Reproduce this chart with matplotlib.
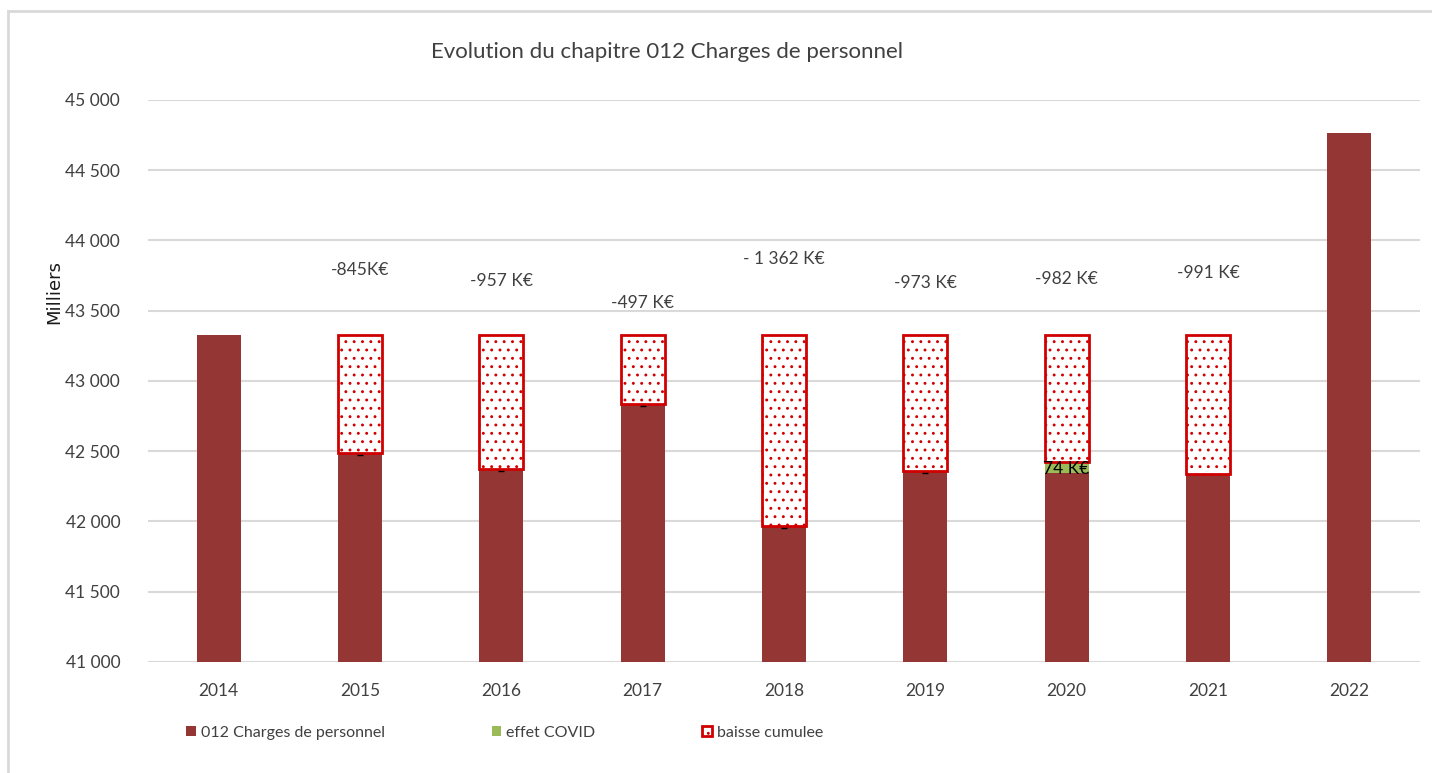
import matplotlib
matplotlib.use("Agg")
import matplotlib.pyplot as plt
from matplotlib.patches import Patch
from matplotlib.lines import Line2D
import numpy as np

plt.rcParams['font.family'] = ['Lato', 'DejaVu Sans']
plt.rcParams['hatch.linewidth'] = 0.9

# donnees (milliers d'euros)
annees = ['2014', '2015', '2016', '2017', '2018', '2019', '2020', '2021', '2022']
charges = [43330, 42485, 42373, 42833, 41968, 42357, 42348, 42339, 44765]
effet_covid = [0, 0, 0, 0, 0, 0, 74, 0, 0]
baisse = [0, 845, 957, 497, 1362, 973, 908, 991, 0]
etiquettes = ['', '-845K€', '-957 K€', '-497 K€', '- 1 362 K€', '-973 K€', '-982 K€', '-991 K€', '']
pos_etiquettes = [0, 43790, 43712, 43555, 43868, 43698, 43726, 43769, 0]

brun = '#943634'
vert = '#9BBB59'
rouge = '#D00000'
gris_txt = '#404040'

fig = plt.figure(figsize=(14.32, 7.73), dpi=100)
ax = fig.add_axes([148 / 1432, 1 - 662 / 773, (1420 - 148) / 1432, (662 - 100) / 773])

x = np.arange(len(annees))
w = 0.31
ax.bar(x, charges, width=w, color=brun, zorder=3)
bas_covid = np.array(charges)
ax.bar(x, effet_covid, width=w, bottom=bas_covid, color=vert, zorder=3)
bas_baisse = bas_covid + np.array(effet_covid)
for i in range(len(annees)):
    if baisse[i] > 0:
        ax.bar(x[i], baisse[i], width=w, bottom=bas_baisse[i], facecolor='white',
               edgecolor=rouge, hatch='..', linewidth=2, zorder=3)
        ax.text(x[i], pos_etiquettes[i], etiquettes[i], ha='center', va='center',
                fontsize=12.5, color=gris_txt)

# petits traits noirs en haut des barres
for i in range(1, 6):
    ax.plot(x[i], charges[i] - 12, marker='_', color='black', markersize=5, zorder=4)

ax.text(x[6], charges[6] + 25, '74 K€', ha='center', va='center', fontsize=12.5, color='black', zorder=5)

ax.set_xlim(-0.5, 8.5)
ax.set_ylim(41000, 45000)
ax.set_yticks(np.arange(41000, 45001, 500))
ax.set_yticklabels([f'{int(v):,}'.replace(',', ' ') for v in np.arange(41000, 45001, 500)])
ax.set_xticks(x)
ax.set_xticklabels(annees)
ax.tick_params(length=0, labelsize=12.5, colors=gris_txt, pad=15)
ax.tick_params(axis='y', pad=20)
ax.grid(axis='y', color='#D9D9D9', linewidth=1.5, zorder=0)
for s in ax.spines.values():
    s.set_visible(False)

fig.text(667 / 1432, 1 - 52 / 773, 'Evolution du chapitre 012 Charges de personnel',
         ha='center', va='center', fontsize=16, color=gris_txt)
fig.text(54 / 1432, 1 - 292 / 773, 'Milliers', rotation=90, ha='center', va='center',
         fontsize=13, color='#1a1a1a', family='DejaVu Sans')

handles = [Patch(facecolor=brun), Patch(facecolor=vert),
           Patch(facecolor='white', edgecolor=rouge, hatch='..', linewidth=2)]
fig.legend(handles, ['012 Charges de personnel', 'effet COVID', 'baisse cumulee'],
           loc='center left', bbox_to_anchor=(172 / 1432, 1 - 733 / 773), ncol=3,
           frameon=False, fontsize=11.5, handlelength=0.6, handleheight=0.6,
           handletextpad=0.3, columnspacing=6.7, labelcolor=gris_txt)

# cadre exterieur
fig.add_artist(Line2D([8 / 1432, 8 / 1432], [0, 1 - 11 / 773], color='#D9D9D9', lw=2))
fig.add_artist(Line2D([8 / 1432, 1], [1 - 11 / 773, 1 - 11 / 773], color='#D9D9D9', lw=2))

fig.savefig('out.png', dpi=100)
